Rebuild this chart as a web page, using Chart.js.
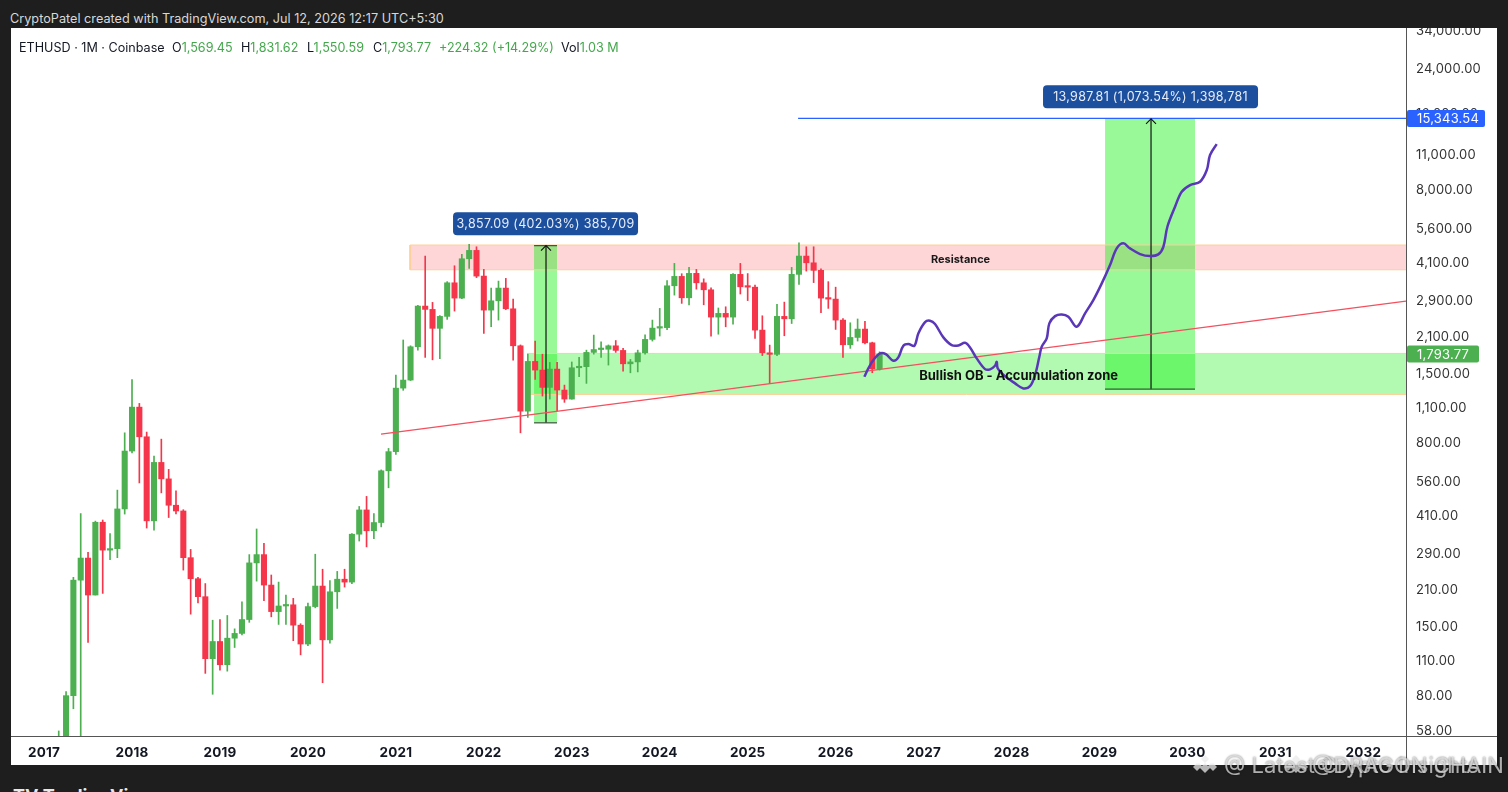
<!DOCTYPE html>
<html><head><meta charset="utf-8">
<script src="https://cdn.jsdelivr.net/npm/chart.js@4/dist/chart.umd.min.js"></script>
<style>
html,body{margin:0;padding:0;width:1508px;height:792px;overflow:hidden;background:#1e1e1e;font-family:Inter,"Liberation Sans",sans-serif}
#panel{position:absolute;left:11px;top:28px;width:1486px;height:737px;background:#fff;overflow:hidden}
canvas{position:absolute;left:0;top:0}
.t{position:absolute;white-space:nowrap}
#title{left:10px;top:11px;color:#d8d8d8;font-size:12.7px;line-height:16px}
.h{top:40px;font-size:12.6px;line-height:16px;color:#131722}
.g{color:#43a84b}
#vline{position:absolute;left:1395px;top:0;width:1px;height:737px;background:#555}
#hline{position:absolute;left:0;top:708px;width:1486px;height:1px;background:#555}
#tv{left:13px;top:786px;color:#e8e8e8;font-weight:700;font-size:18px;line-height:20px}
.wm{top:752px;font-size:22px;line-height:26px;color:rgba(235,235,235,.72);text-shadow:0 0 2px rgba(0,0,0,.55)}
.bi{position:absolute;top:754px}
</style></head><body>
<div id="title" class="t">CryptoPatel created with TradingView.com, Jul 12, 2026 12:17 UTC+5:30</div>
<div id="panel"><canvas id="c" width="1486" height="737"></canvas><div id="vline"></div><div id="hline"></div></div>
<div class="t h" style="left:19px">ETHUSD · 1M · Coinbase</div>
<div class="t h" style="left:172px">O<span class="g">1,569.45</span></div>
<div class="t h" style="left:241px">H<span class="g">1,831.62</span></div>
<div class="t h" style="left:307px">L<span class="g">1,550.59</span></div>
<div class="t h" style="left:373px">C<span class="g">1,793.77</span></div>
<div class="t h g" style="left:439px">+224.32 (+14.29%)</div>
<div class="t h" style="left:561px">Vol<span class="g">1.03 M</span></div>
<div id="tv" class="t">TV TradingView</div>
<svg class="bi" style="left:1193px" width="24" height="24" viewBox="0 0 24 24" fill="rgba(235,235,235,.75)"><path d="M12 1l4 4-4 4-4-4zM4 9l4 4-4 4-4-4zM20 9l4 4-4 4-4-4zM12 9l4 4-4 4-4-4zM12 15l6-6 0 0 2 2-8 8-8-8 2-2z"/></svg>
<svg class="bi" style="left:1284px" width="24" height="24" viewBox="0 0 24 24" fill="rgba(235,235,235,.75)"><path d="M12 1l4 4-4 4-4-4zM4 9l4 4-4 4-4-4zM20 9l4 4-4 4-4-4zM12 9l4 4-4 4-4-4zM12 15l6-6 0 0 2 2-8 8-8-8 2-2z"/></svg>
<div class="t wm" style="left:1224px">@ Latest Crypto Insights</div>
<div class="t wm" style="left:1312px">@DRAGON CHAIN</div>
<script>
const categories=[
"2017-01","2017-02","2017-03","2017-04","2017-05","2017-06","2017-07","2017-08","2017-09","2017-10","2017-11","2017-12",
"2018-01","2018-02","2018-03","2018-04","2018-05","2018-06","2018-07","2018-08","2018-09","2018-10","2018-11","2018-12",
"2019-01","2019-02","2019-03","2019-04","2019-05","2019-06","2019-07","2019-08","2019-09","2019-10","2019-11","2019-12",
"2020-01","2020-02","2020-03","2020-04","2020-05","2020-06","2020-07","2020-08","2020-09","2020-10","2020-11","2020-12",
"2021-01","2021-02","2021-03","2021-04","2021-05","2021-06","2021-07","2021-08","2021-09","2021-10","2021-11","2021-12",
"2022-01","2022-02","2022-03","2022-04","2022-05","2022-06","2022-07","2022-08","2022-09","2022-10","2022-11","2022-12",
"2023-01","2023-02","2023-03","2023-04","2023-05","2023-06","2023-07","2023-08","2023-09","2023-10","2023-11","2023-12",
"2024-01","2024-02","2024-03","2024-04","2024-05","2024-06","2024-07","2024-08","2024-09","2024-10","2024-11","2024-12",
"2025-01","2025-02","2025-03","2025-04","2025-05","2025-06","2025-07","2025-08","2025-09","2025-10","2025-11","2025-12",
"2026-01","2026-02","2026-03","2026-04","2026-05","2026-06","2026-07"];
const opens=[8,10.7,15.7,50,80,229,280,200,388,301,305,438,
742,1107,845,393,669,576,453,430,281,232,197,112,
131,106,135,141,160,268,289,219,172,181,183,152,
128,180,217,133,206,231,225,348,434,359,387,620,
738,1316,1416,1918,2778,2695,2268,2529,3434,2987,4274,4613,
3650,2678,2915,3272,2710,1935,1067,1678,1551,1325,1565,1293,
1191,1584,1600,1822,1870,1875,1935,1855,1642,1671,1815,2051,
2273,2283,3342,3640,2995,3742,3434,3222,2513,2599,2513,3708,
3311,3300,2232,1815,1790,2529,2474,3708,4380,4120,3846,2987,
2960,2445,1953,2088,2253,1988,1569.45];
const highs=[11.4,16,58,83,235,420,295,392,396,350,520,876,
1424,1145,882,709,827,628,516,435,303,235,222,159,
160,166,147,188,289,365,320,240,225,200,194,154,
186,290,253,228,248,253,350,448,491,420,625,760,
1482,2040,1935,2800,4380,2873,2550,3470,4010,4449,4873,4767,
3880,3272,3488,3575,2960,1950,1793,2020,1793,1663,1663,1353,
1670,1741,1860,2133,2007,1950,2030,1890,1709,1860,2139,2445,
2720,3500,4098,3730,3951,3880,3560,3280,2730,2760,3735,4098,
3735,3360,2543,1947,2820,2880,3951,4944,4767,4767,3900,3470,
3300,2480,2386,2470,2420,2000,1831.62];
const lows=[8,10.5,15.5,42,71,10,130,200,203,276,281,418,
730,555,368,361,507,405,419,251,168,186,98,81,
101,100,124,139,156,227,190,164,153,153,132,116,
126,178,90,129,177,215,222,327,310,334,372,531,
720,1290,1410,1860,1741,1703,1720,2461,2654,2970,3916,3600,
2166,2301,2445,2690,1699,876,1008,1424,1224,1191,1070,1156,
1190,1459,1374,1793,1741,1623,1822,1537,1513,1525,1793,2020,
2115,2240,3070,2847,2810,3240,2810,2110,2150,2300,2358,3100,
2920,2070,1770,1374,1770,2120,2370,3380,3820,3440,2614,2720,
2246,1741,1890,2020,1970,1513,1550.59];
const closes=[10.7,15.7,50,80,229,280,200,388,301,305,438,742,
1107,845,393,669,576,453,430,281,232,197,112,131,
106,135,141,160,268,289,219,172,181,183,152,128,
180,217,133,206,231,225,348,434,359,387,620,738,
1316,1416,1918,2778,2695,2268,2529,3434,2987,4274,4613,3650,
2678,2915,3272,2710,1935,1067,1678,1551,1325,1565,1293,1191,
1584,1600,1822,1870,1875,1935,1855,1642,1671,1815,2051,2273,
2283,3342,3640,2995,3742,3434,3222,2513,2599,2513,3708,3311,
3300,2232,1815,1790,2529,2474,3708,4380,4120,3846,2987,2960,
2445,1953,2088,2253,1988,1569.45,1793.77];
const priceTickValues=[34000,24000,16000,11000,8000,5600,4100,2900,2100,1500,1100,800,560,410,290,210,150,110,80,58];
const pathYears=[2026.326,2026.372,2026.429,2026.505,2026.570,2026.656,2026.713,2026.770,2026.827,2026.895,2026.940,2027.017,2027.073,2027.130,2027.225,2027.320,2027.395,2027.471,2027.528,2027.604,2027.699,2027.756,2027.812,2027.832,2027.843,2027.926,2028.040,2028.134,2028.210,2028.267,2028.316,2028.343,2028.400,2028.430,2028.495,2028.571,2028.646,2028.741,2028.836,2028.930,2029.026,2029.120,2029.196,2029.271,2029.347,2029.461,2029.575,2029.669,2029.726,2029.772,2029.859,2029.935,2030.030,2030.143,2030.220,2030.257,2030.333];
const pathPrices=[1459,1575,1699,1805,1793,1688,1741,1935,1965,1935,2166,2401,2430,2358,2089,1947,1941,1988,1906,1725,1565,1561,1613,1672,1575,1468,1374,1312,1340,1482,1750,1917,2070,2372,2535,2575,2520,2301,2599,2933,3415,4036,4696,4917,4696,4461,4380,4449,4767,5720,6863,7868,8362,8618,9587,10990,12147];
const trendYears=[2020.831,2032.485], trendPrices=[865.5,2908];
const targetYears=[2025.573,2032.485], targetPrice=15343.54, lastPrice=1793.77;
const resistanceYears=[2021.161,2032.485], resistancePrices=[4842,3867];
const obYears=[2022.491,2032.485], obPrices=[1805,1243];
const longAYears=[2022.571,2022.832], longAMid=2022.707, longAPrices=[4816.5,959.4];
const longBYears=[2029.063,2030.086], longBMid=2029.586, longBPrices=[15290.8,1302.96];
const xMin=2016.624,xMax=2032.485,yMin=54.9,yMax=34630;

const GREEN='#4caf50',RED='#f5364a',FONT='Inter, "Liberation Sans", sans-serif';
const xs=categories.map(s=>{const [y,m]=s.split('-').map(Number);return y+(m-1)/12;});
const up=closes.map((c,i)=>c>=opens[i]);
const barColors=up.map(u=>u?GREEN:RED);
const seg=(x0,y0,x1,y1,color,width,order)=>({type:'line',data:[{x:x0,y:y0},{x:x1,y:y1}],borderColor:color,borderWidth:width,pointRadius:0,fill:false,order,tension:0});
const zone=(yrs,top,bot,color,order)=>({type:'line',data:[{x:yrs[0],y:top},{x:yrs[1],y:top}],borderWidth:0,borderColor:'transparent',backgroundColor:color,pointRadius:0,fill:{target:{value:bot}},order});
const ORANGE='#ffcf94';
const datasets=[
 zone(resistanceYears,resistancePrices[0],resistancePrices[1],'rgba(255,82,92,0.24)',20),
 zone(obYears,obPrices[0],obPrices[1],'rgba(0,240,0,0.30)',20),
 zone(longAYears,longAPrices[0],longAPrices[1],'rgba(0,240,0,0.40)',19),
 zone(longBYears,longBPrices[0],longBPrices[1],'rgba(0,240,0,0.40)',19),
 seg(resistanceYears[0],resistancePrices[0],resistanceYears[1],resistancePrices[0],ORANGE,1,18),
 seg(resistanceYears[0],resistancePrices[1],resistanceYears[1],resistancePrices[1],ORANGE,1,18),
 seg(resistanceYears[0],resistancePrices[0],resistanceYears[0],resistancePrices[1],ORANGE,1,18),
 seg(obYears[0],obPrices[0],obYears[1],obPrices[0],ORANGE,1,18),
 seg(obYears[0],obPrices[1],obYears[1],obPrices[1],ORANGE,1,18),
 {type:'bar',grouped:false,barThickness:1,backgroundColor:barColors,order:10,data:xs.map((x,i)=>({x,y:[lows[i],highs[i]]}))},
 {type:'bar',grouped:false,barThickness:5.4,minBarLength:1.5,backgroundColor:barColors,order:9,data:xs.map((x,i)=>({x,y:[Math.min(opens[i],closes[i]),Math.max(opens[i],closes[i])]}))},
 seg(longAYears[0],longAPrices[0],longAYears[1],longAPrices[0],'#3f4f3f',1.2,8),
 seg(longAYears[0],longAPrices[1],longAYears[1],longAPrices[1],'#3f4f3f',1.2,8),
 seg(longAMid,longAPrices[1],longAMid,longAPrices[0],'#111',1.2,8),
 seg(longBYears[0],longBPrices[1],longBYears[1],longBPrices[1],'#2f5f2f',1.2,8),
 seg(longBMid,longBPrices[1],longBMid,longBPrices[0],'#111',1.2,8),
 seg(trendYears[0],trendPrices[0],trendYears[1],trendPrices[1],'#f2505e',1.3,6),
 seg(targetYears[0],targetPrice,targetYears[1],targetPrice,'#2962ff',1.3,5),
 {type:'line',data:pathYears.map((x,i)=>({x,y:pathPrices[i]})),borderColor:'#5a37b8',borderWidth:2.5,pointRadius:0,fill:false,tension:0.35,order:4}
];

const noteTexts=[
 {text:'Resistance',x:2027.42,y:4223,font:'700 11px '+FONT,color:'#1a1a1a'},
 {text:'Bullish OB - Accumulation zone',x:2028.08,y:1473,font:'700 13px '+FONT,color:'#111'}
];
const badges=[
 {text:'3,857.09 (402.03%) 385,709',x:2021.65,y:longAPrices[0],dy:-22,w:185,h:23},
 {text:'13,987.81 (1,073.54%) 1,398,781',x:2028.358,y:longBPrices[0],dy:-22,w:215,h:23}
];
const priceTags=[
 {text:'15,343.54',y:targetPrice,color:'#2962ff',w:78},
 {text:'1,793.77',y:lastPrice,color:'#4caf50',w:72}
];
const overlay={id:'overlay',
 beforeDraw(c){c.ctx.letterSpacing='0.2px';},
 afterDraw(chart){
  const ctx=chart.ctx,sx=chart.scales.x,sy=chart.scales.y;
  ctx.save();
  ctx.letterSpacing='0px';
  ctx.textBaseline='middle';ctx.textAlign='center';
  noteTexts.forEach(n=>{ctx.font=n.font;ctx.fillStyle=n.color;ctx.fillText(n.text,sx.getPixelForValue(n.x),sy.getPixelForValue(n.y));});
  [[longAMid,longAPrices[0]],[longBMid,longBPrices[0]]].forEach(([x,y])=>{
    const px=sx.getPixelForValue(x),py=sy.getPixelForValue(y);
    ctx.strokeStyle='#111';ctx.lineWidth=1.1;ctx.beginPath();ctx.moveTo(px-5,py+5);ctx.lineTo(px,py);ctx.lineTo(px+5,py+5);ctx.stroke();
  });
  badges.forEach(b=>{
    const cx=sx.getPixelForValue(b.x)+b.w/2,py=sy.getPixelForValue(b.y)+b.dy;
    ctx.fillStyle='#1c4f9e';ctx.beginPath();ctx.roundRect(cx-b.w/2,py-b.h/2,b.w,b.h,4);ctx.fill();
    ctx.font='12.5px '+FONT;ctx.fillStyle='#e8eefa';ctx.letterSpacing='0.3px';ctx.fillText(b.text,cx,py+0.5);ctx.letterSpacing='0px';
  });
  ctx.textAlign='left';
  priceTags.forEach(t=>{
    const px=sx.right+1,py=sy.getPixelForValue(t.y);
    ctx.fillStyle=t.color;ctx.beginPath();ctx.roundRect(px,py-8.5,t.w,17,2);ctx.fill();
    ctx.font='13px '+FONT;ctx.fillStyle='#fff';ctx.letterSpacing='0.2px';ctx.fillText(t.text,px+10,py+0.5);ctx.letterSpacing='0px';
  });
  ctx.restore();
 }};

new Chart(document.getElementById('c'),{
 type:'bar',
 data:{datasets},
 plugins:[overlay],
 options:{
  responsive:false,animation:false,devicePixelRatio:1,
  layout:{padding:{top:1,left:0,right:0,bottom:0}},
  plugins:{legend:{display:false},tooltip:{enabled:false},title:{display:false}},
  scales:{
   x:{type:'linear',offset:false,min:xMin,max:xMax,
      grid:{display:false,drawTicks:false},border:{display:false},
      afterFit(a){a.height=28;a.paddingLeft=0;a.paddingRight=0;},
      ticks:{stepSize:1,includeBounds:false,autoSkip:false,maxRotation:0,padding:8,color:'#131722',font:{family:FONT,size:13.5,weight:'700'},callback:v=>Number.isInteger(v)?String(v):''}},
   y:{type:'logarithmic',position:'right',min:yMin,max:yMax,bounds:'data',
      grid:{display:false,drawTicks:false},border:{display:false},
      afterFit(a){a.width=91;a.paddingTop=0;a.paddingBottom=0;},
      afterBuildTicks(a){a.ticks=priceTickValues.map(v=>({value:v}));a.min=yMin;a.max=yMax;},
      ticks:{autoSkip:false,padding:10,color:'#333',font:{family:FONT,size:13},callback:v=>Number(v).toLocaleString('en-US',{minimumFractionDigits:2,maximumFractionDigits:2})}}
  }
 }
});
</script></body></html>
